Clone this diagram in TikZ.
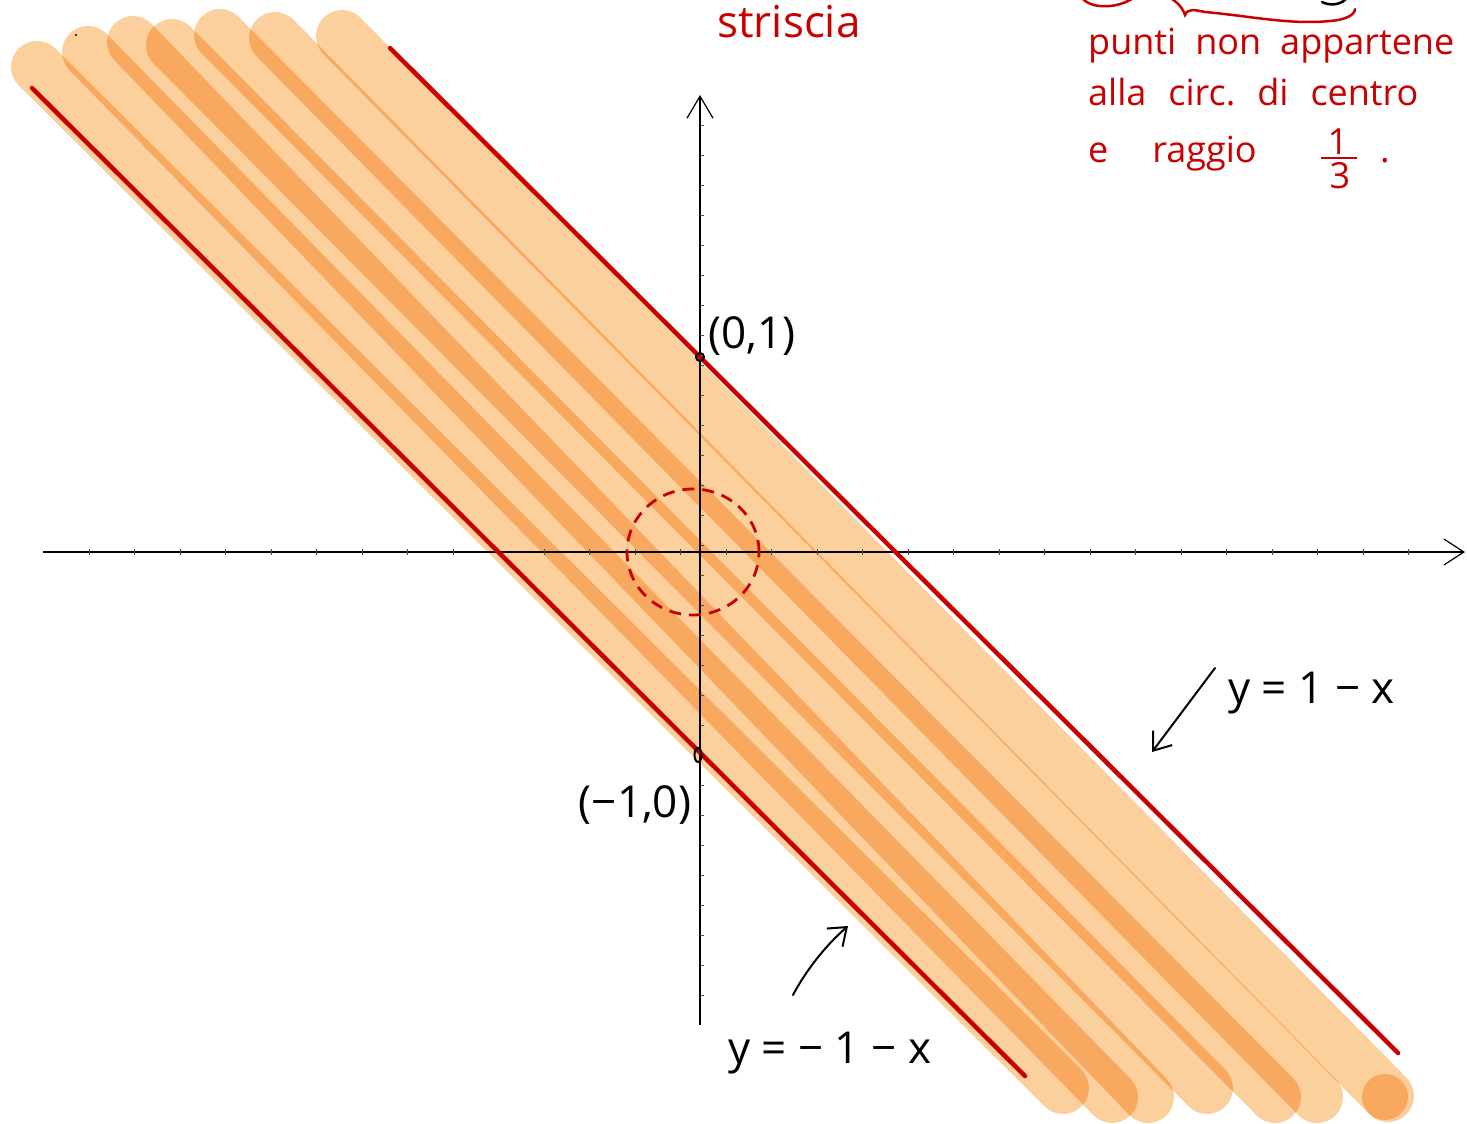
\documentclass[tikz,border=0pt]{standalone}
\usepackage{fontspec}
\setmainfont{Open Sans}
\usetikzlibrary{arrows.meta}
\definecolor{hl}{RGB}{252,208,156}
\definecolor{rd}{RGB}{200,0,0}
\begin{document}
\begin{tikzpicture}[x=1pt,y=-1pt,
  band/.style={line width=52pt, line cap=round, draw=hl},
  redline/.style={draw=rd, line width=4.5pt, line cap=round},
  axis/.style={draw=black, line width=1.2pt},
  tickmark/.style={draw=black!70, line width=0.8pt},
  hand/.style={font=\fontsize{44}{48}\selectfont, inner sep=0pt},
  redtxt/.style={text=rd, font=\fontsize{36}{40}\selectfont, inner sep=0pt},
  pointer/.style={draw=black, line width=2pt, line cap=round, -{Straight Barb[length=16pt,width=24pt,line width=2pt]}},
  ]
\useasboundingbox (0,0) rectangle (1467,1124);
% highlighter bands (multiplied where they overlap)
\begin{scope}[blend mode=multiply]
\draw[band] (37,67) -- (1063,1088);
\draw[band] (88,52) -- (1112,1097);
\draw[band] (133,42) -- (1148,1097);
\draw[band] (172,45) -- (1207,1088);
\draw[band] (220,35) -- (1275,1097);
\draw[band] (275,38) -- (1317,1097);
\draw[band] (342,36) -- (1388,1096);
\fill[hl] (1385,1097) circle (23pt);
\end{scope}
\fill (76,35) circle (1.2pt);
% axes
\coordinate (xs) at (43,552);
\coordinate (xe) at (1465,552);
\coordinate (ys) at (700,1025);
\coordinate (ye) at (700,95);
\draw[axis, -{Straight Barb[length=20pt,width=26pt,line width=1.2pt]}] (xs) -- (xe);
\draw[axis, -{Straight Barb[length=22pt,width=26pt,line width=1.2pt]}] (ys) -- (ye);
\foreach \i in {0,...,29} \draw[tickmark] ({89.3+45.5*\i},549) -- ++(0,6);
\foreach \i in {0,...,29} \draw[tickmark] (700,{995-30*\i}) -- ++(4,0);
% red boundary lines
\draw[redline] (390,48) -- (1398,1053);
\draw[redline] (32,88) -- (1025,1076);
% dashed circle
\draw[rd, line width=2.8pt, dash pattern=on 12pt off 8pt] (693,552) ellipse (66pt and 63pt);
% point marks
\draw[line width=2pt] (700,357) circle (4pt);
\draw[line width=2pt] (698,755) ellipse (3.5pt and 7pt);
% black labels
\node[hand] (p01) at (752,336) {(0,1)};
\node[hand] (pm10) at (635,805) {(−1,0)};
\node[hand, anchor=base west] (l1) at (1228,703) {y = 1 − x};
\node[hand, anchor=base west] (l2) at (728,1063) {y = − 1 − x};
\coordinate (a1s) at (1215,668);
\coordinate (a1e) at (1152,752);
\draw[pointer] (a1s) -- (a1e);
\coordinate (a2s) at (793,995);
\coordinate (a2e) at (848,926);
\draw[pointer] (a2s) .. controls (805,972) and (825,946) .. (a2e);
% red annotations
\node[redtxt, font=\fontsize{44}{48}\selectfont] (str) at (789,22) {striscia};
\draw[rd, line width=2.5pt, line cap=round] (1083,-1) .. controls (1092,9) and (1118,9) .. (1135,-3);
\draw[rd, line width=2.5pt, line cap=round] (1165,-5) .. controls (1175,0) and (1182,6) .. (1185,15) .. controls (1188,8) and (1195,10) .. (1205,12) .. controls (1250,16) and (1290,25) .. (1330,21) .. controls (1345,20) and (1355,15) .. (1355,9);
\draw[black, line width=2.5pt, line cap=round] (1322,2) .. controls (1330,6) and (1340,5) .. (1346,-1);
\node[redtxt, anchor=base west] (t1) at (1088,55) {punti\hspace{19pt}non\hspace{19pt}appartene};
\node[redtxt, anchor=base west] (t2) at (1088,105) {alla\hspace{22pt}circ.\hspace{22pt}di\hspace{22pt}centro};
\node[redtxt, anchor=base west] (t3) at (1088,162) {e\hspace{44pt}raggio};
\node[redtxt] (f1) at (1338,142) {1};
\coordinate (fl) at (1321,158);
\coordinate (fr) at (1357,158);
\draw[rd, line width=2pt] (fl) -- (fr);
\node[redtxt] (f3) at (1340,176) {3};
\node[redtxt, anchor=base] (dt) at (1385,162) {.};
\end{tikzpicture}
\end{document}
